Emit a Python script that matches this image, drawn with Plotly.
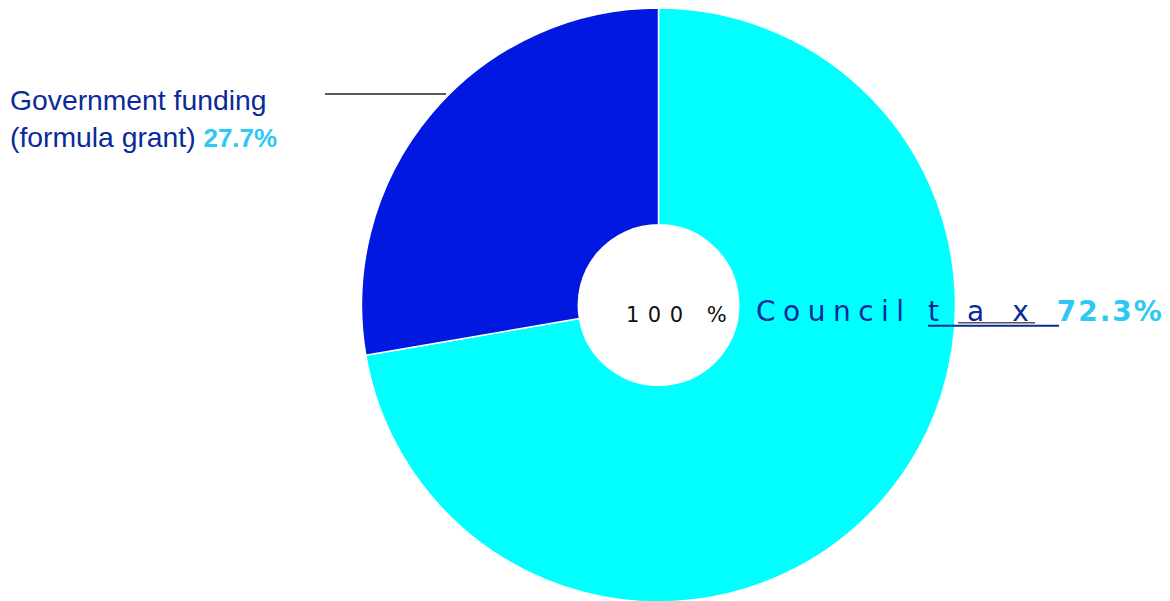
import plotly.graph_objects as go

# ---- data ----
labels = ["Council tax", "Government funding (formula grant)"]
values = [72.3, 27.7]
slice_colors = ["#00FFFF", "#0018E0"]
total_label = "100 %"

W, H = 1170, 601
OFF = 8  # page body margin offset
NAVY = "#0B2A99"
LIGHT = "#2EC8F5"


def px(x):
    return (x - OFF) / W


def py(y):
    return 1 - (y - OFF) / H


cx, cy, R = 658.5, 305, 297

fig = go.Figure(
    go.Pie(
        labels=labels,
        values=values,
        sort=False,
        direction="clockwise",
        rotation=0,
        hole=0.27,
        marker=dict(colors=slice_colors, line=dict(color="white", width=1.5)),
        textinfo="none",
        hoverinfo="label+percent",
        showlegend=False,
        domain=dict(x=[px(cx - R), px(cx + R)], y=[py(cy + R), 1.0]),
    )
)

annotations = [
    # centre total
    dict(
        text=f"<span style='letter-spacing:8.5px'>{total_label}</span>",
        x=px(624), y=py(315), xref="paper", yref="paper",
        xanchor="left", yanchor="middle", showarrow=False,
        font=dict(family="DejaVu Sans", size=21, color="#111111"),
    ),
    # left label
    dict(
        text=(f"Government funding<br>(formula grant) "
              f"<b><span style='color:{LIGHT};font-size:26px'>{values[1]}%</span></b>"),
        x=0, y=py(118), xref="paper", yref="paper",
        xanchor="left", yanchor="middle", align="left", showarrow=False,
        font=dict(family="Liberation Sans", size=28.3, color=NAVY),
    ),
    # right label
    dict(
        text=("<span style='letter-spacing:7.5px'>Council </span>"
              "<span style='letter-spacing:28px'>tax</span>"
              f"<b><span style='letter-spacing:2px;color:{LIGHT}'>{values[0]}%</span></b>"),
        x=px(754), y=py(311.5), xref="paper", yref="paper",
        xanchor="left", yanchor="middle", showarrow=False,
        font=dict(family="DejaVu Sans", size=28, color=NAVY),
    ),
]

shapes = [
    # left leader line
    dict(type="line", xref="paper", yref="paper",
         x0=px(325), x1=px(446), y0=py(94), y1=py(94),
         line=dict(color="#222222", width=1.5)),
    # right leader (grey) and underline (blue)
    dict(type="line", xref="paper", yref="paper",
         x0=px(958), x1=px(1035), y0=py(322.7), y1=py(322.7),
         line=dict(color="#555555", width=1.5)),
    dict(type="line", xref="paper", yref="paper",
         x0=px(928), x1=px(1059), y0=py(325.7), y1=py(325.7),
         line=dict(color=NAVY, width=2)),
]

fig.update_layout(
    width=W, height=H,
    margin=dict(l=0, r=0, t=0, b=0),
    paper_bgcolor="white", plot_bgcolor="white",
    annotations=annotations,
    shapes=shapes,
)

fig.write_html("out.html")
